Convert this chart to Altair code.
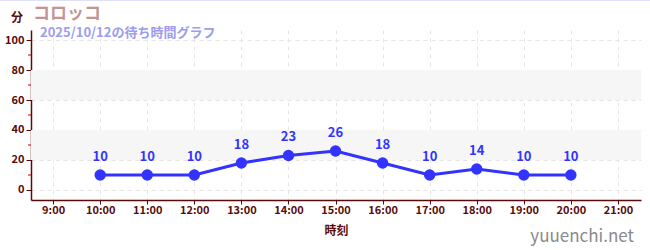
import altair as alt
import pandas as pd

hours = [10, 11, 12, 13, 14, 15, 16, 17, 18, 19, 20]
waits = [10, 10, 10, 18, 23, 26, 18, 10, 14, 10, 10]
x_ticks = [9, 10, 11, 12, 13, 14, 15, 16, 17, 18, 19, 20, 21]
y_ticks = [0, 20, 40, 60, 80, 100]
y_minor = [10, 30, 50, 70, 90]
band_lo = [20, 60]
band_hi = [40, 80]

FONT = "Noto Sans CJK JP"
W, H = 610, 170
XD = [8.53, 21.49]
YD = [-6.67, 106.67]
MAROON = "#5a0a0a"
BLUE = "#3333ff"

df = pd.DataFrame({"h": hours, "w": waits})
bands = pd.DataFrame({"lo": band_lo, "hi": band_hi})
minor = pd.DataFrame({"v": y_minor})

xs = alt.Scale(domain=XD, nice=False, zero=False)
ys = alt.Scale(domain=YD, nice=False, zero=False)

grid_axis_x = alt.Axis(
    values=x_ticks, labelExpr="datum.value + ':00'", title="時刻",
    grid=True, gridColor="#e6e6e6", gridDash=[4, 4], gridWidth=1,
    domainColor=MAROON, domainWidth=1.5, tickColor=MAROON, tickSize=4,
    labelColor=MAROON, labelFont=FONT, labelFontSize=11, labelFontWeight="bold",
    labelPadding=0,
    titleColor=MAROON, titleFont=FONT, titleFontSize=12, titleFontWeight="bold",
    titlePadding=10,
)
grid_axis_y = alt.Axis(
    values=y_ticks, title=None, grid=True, gridColor="#e6e6e6", gridDash=[4, 4],
    domainColor=MAROON, domainWidth=1.5, tickColor=MAROON, tickSize=5,
    labelColor=MAROON, labelFont=FONT, labelFontSize=11, labelFontWeight="bold",
    labelPadding=2,
)

band_layer = alt.Chart(bands).mark_rect(color="#f6f6f6").encode(
    y=alt.Y("lo:Q", scale=ys, axis=grid_axis_y),
    y2="hi:Q",
    x=alt.value(0),
    x2=alt.value(W),
)

line = alt.Chart(df).mark_line(color=BLUE, strokeWidth=3).encode(
    x=alt.X("h:Q", scale=xs, axis=grid_axis_x),
    y=alt.Y("w:Q", scale=ys, axis=grid_axis_y),
)
pts = alt.Chart(df).mark_circle(color=BLUE, size=130, opacity=1).encode(
    x=alt.X("h:Q", scale=xs, axis=grid_axis_x),
    y=alt.Y("w:Q", scale=ys, axis=grid_axis_y),
)
labels = alt.Chart(df).mark_text(
    color=BLUE, font=FONT, fontSize=13, fontWeight="bold", dy=-18
).encode(
    x=alt.X("h:Q", scale=xs, axis=grid_axis_x),
    y=alt.Y("w:Q", scale=ys, axis=grid_axis_y),
    text="w:Q",
)

minor_ticks = alt.Chart(minor).mark_rule(color="#cc0000", strokeWidth=1).encode(
    y=alt.Y("v:Q", scale=ys, axis=grid_axis_y),
    x=alt.value(-3),
    x2=alt.value(0),
)

ann = pd.DataFrame({"t": [0]})
title = alt.Chart(ann).mark_text(
    text="コロッコ", font=FONT, fontSize=17, fontWeight="bold",
    color="#c49494", align="left", baseline="alphabetic"
).encode(x=alt.value(2), y=alt.value(-11))
subtitle = alt.Chart(ann).mark_text(
    text="2025/10/12の待ち時間グラフ", font=FONT, fontSize=13, fontWeight="bold",
    color="#9c9cf0", align="left", baseline="alphabetic"
).encode(x=alt.value(9), y=alt.value(7))
unit = alt.Chart(ann).mark_text(
    text="分", font=FONT, fontSize=12, fontWeight="bold",
    color=MAROON, align="center", baseline="alphabetic"
).encode(x=alt.value(-14), y=alt.value(-8))
watermark = alt.Chart(ann).mark_text(
    text="yuuenchi.net", font=FONT, fontSize=17,
    color="#8a8a8a", align="right", baseline="alphabetic"
).encode(x=alt.value(603), y=alt.value(212))
topline = alt.Chart(ann).mark_rule(color="#e0e0fa", strokeWidth=2).encode(
    x=alt.value(-31), x2=alt.value(619), y=alt.value(-30)
)

chart = alt.layer(
    band_layer, line, pts, labels, minor_ticks, title, subtitle, unit, watermark, topline
).properties(
    width=W, height=H,
    autosize=alt.AutoSizeParams(type="none"),
    padding={"left": 31, "top": 30, "right": 9, "bottom": 50},
    background="white",
).configure_view(stroke=None)

chart.save("out.html", embed_options={"renderer": "svg", "actions": False})
